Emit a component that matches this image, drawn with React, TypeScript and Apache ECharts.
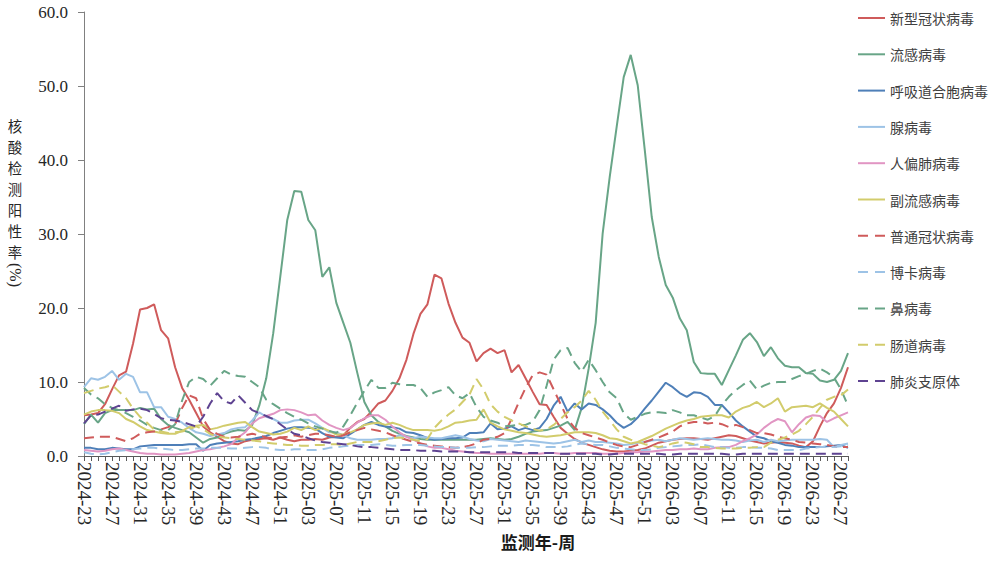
import React, { useEffect, useRef } from "react";
import * as echarts from "echarts";

const weeks: string[] = [
  "2024-23","2024-24","2024-25","2024-26","2024-27","2024-28","2024-29","2024-30","2024-31","2024-32",
  "2024-33","2024-34","2024-35","2024-36","2024-37","2024-38","2024-39","2024-40","2024-41","2024-42",
  "2024-43","2024-44","2024-45","2024-46","2024-47","2024-48","2024-49","2024-50","2024-51","2024-52",
  "2025-01","2025-02","2025-03","2025-04","2025-05","2025-06","2025-07","2025-08","2025-09","2025-10",
  "2025-11","2025-12","2025-13","2025-14","2025-15","2025-16","2025-17","2025-18","2025-19","2025-20",
  "2025-21","2025-22","2025-23","2025-24","2025-25","2025-26","2025-27","2025-28","2025-29","2025-30",
  "2025-31","2025-32","2025-33","2025-34","2025-35","2025-36","2025-37","2025-38","2025-39","2025-40",
  "2025-41","2025-42","2025-43","2025-44","2025-45","2025-46","2025-47","2025-48","2025-49","2025-50",
  "2025-51","2025-52","2026-01","2026-02","2026-03","2026-04","2026-05","2026-06","2026-07","2026-08",
  "2026-09","2026-10","2026-11","2026-12","2026-13","2026-14","2026-15","2026-16","2026-17","2026-18",
  "2026-19","2026-20","2026-21","2026-22","2026-23","2026-24","2026-25","2026-26","2026-27","2026-28",
];

const yTicks: number[] = [0, 10, 20, 30, 40, 50, 60];

const covid: number[] = [
  5.5, 5.6, 5.8, 7.0, 9.0, 10.9, 11.4, 15.2, 19.8, 20.0,
  20.5, 17.0, 15.9, 12.0, 9.2, 7.6, 5.8, 4.0, 3.2, 2.6,
  2.0, 1.7, 1.6, 2.0, 2.2, 2.3, 2.4, 2.2, 2.5, 2.2,
  2.0, 2.2, 2.2, 2.3, 2.2, 2.5, 2.6, 2.8, 3.8, 4.6,
  5.0, 6.0, 7.1, 7.5, 8.8, 10.5, 13.0, 16.5, 19.2, 20.5,
  24.5, 24.0, 20.6, 18.0, 16.0, 15.3, 12.8, 13.9, 14.5, 13.9,
  14.3, 11.3, 12.3, 10.5, 8.7, 7.0, 6.9, 5.3, 3.8, 3.0,
  2.3, 1.8, 1.5, 1.2, 0.9, 0.7, 0.6, 0.6, 0.7, 0.8,
  1.0, 1.4, 1.8, 2.0, 2.2, 2.3, 2.4, 2.4, 2.3, 2.2,
  2.4, 2.6, 2.8, 2.7, 2.4, 2.1, 1.9, 1.7, 1.8, 1.9,
  1.8, 1.7, 1.4, 1.2, 2.0, 4.0, 5.8, 7.1, 9.2, 12.0,
];

const flu: number[] = [
  4.3, 5.6, 4.5, 5.8, 6.2, 6.2, 6.2, 6.2, 6.5, 6.3,
  6.4, 5.0, 4.2, 3.8, 3.5, 3.2, 2.5, 1.8, 2.3, 2.5,
  3.0, 3.3, 3.5, 3.4, 4.2, 6.8, 10.5, 16.6, 24.2, 31.9,
  35.8, 35.7, 31.9, 30.5, 24.2, 25.5, 20.7, 18.0, 15.3, 11.2,
  7.3, 5.5, 4.6, 4.0, 3.4, 3.0, 2.7, 2.5, 2.3, 2.2,
  2.2, 2.2, 2.2, 2.2, 2.2, 2.2, 2.2, 2.3, 2.4, 2.3,
  2.2, 2.3, 2.6, 3.0, 3.3, 3.4, 3.5, 3.8, 4.1, 4.6,
  3.5, 6.5, 11.8, 18.0, 30.1, 37.7, 44.5, 51.2, 54.2, 50.1,
  41.4, 32.3, 26.9, 23.1, 21.4, 18.6, 17.0, 12.7, 11.2, 11.1,
  11.1, 9.6, 11.6, 13.6, 15.7, 16.6, 15.4, 13.5, 14.7, 13.2,
  12.2, 12.0, 12.0, 11.2, 11.1, 10.2, 10.0, 10.3, 11.5, 13.9,
];

const rsv: number[] = [
  1.1, 1.1, 0.9, 0.9, 1.1, 1.0, 0.9, 0.9, 1.3, 1.4,
  1.5, 1.5, 1.5, 1.5, 1.5, 1.6, 1.6, 0.7, 1.5, 1.7,
  1.8, 1.9, 2.0, 2.2, 2.3, 2.5, 2.7, 3.1, 3.4, 3.7,
  3.9, 3.9, 3.8, 3.7, 3.1, 2.6, 2.5, 2.4, 3.0, 3.6,
  4.2, 4.6, 4.2, 4.0, 3.9, 3.7, 3.2, 3.1, 2.8, 2.4,
  2.2, 2.3, 2.4, 2.4, 2.5, 3.1, 3.1, 3.2, 4.4, 3.6,
  3.7, 4.0, 3.5, 3.8, 3.5, 3.8, 5.0, 6.8, 8.0, 6.0,
  7.1, 6.3, 7.1, 6.9, 6.3, 5.5, 4.5, 3.8, 4.3, 5.2,
  6.4, 7.5, 8.7, 9.9, 9.3, 8.5, 8.0, 8.6, 8.5, 8.0,
  6.9, 6.9, 5.9, 4.8, 4.0, 3.3, 2.6, 2.4, 2.0, 1.8,
  1.5, 1.4, 1.2, 1.2, 1.2, 1.2, 1.3, 1.4, 1.5, 1.1,
];

const adeno: number[] = [
  9.3, 10.5, 10.3, 10.7, 11.5, 10.3, 11.1, 10.7, 8.6, 8.6,
  6.6, 6.6, 5.3, 5.0, 4.5, 3.8, 3.2, 3.0, 2.7, 2.9,
  3.1, 3.6, 3.8, 3.9, 4.8, 5.9, 5.3, 5.0, 4.5, 4.5,
  4.8, 4.9, 4.9, 4.4, 3.8, 3.2, 3.2, 2.8, 2.4, 2.2,
  2.2, 2.2, 2.3, 2.3, 2.4, 2.8, 2.6, 2.4, 2.6, 2.5,
  2.4, 2.4, 2.6, 2.8, 2.6, 2.3, 2.1, 2.0, 2.3, 2.2,
  2.1, 2.0, 1.9, 2.1, 2.0, 1.9, 1.8, 1.7, 1.8, 2.0,
  2.2, 1.9, 2.1, 1.9, 1.9, 1.8, 1.7, 1.5, 1.6, 1.8,
  1.9, 2.1, 2.2, 2.0, 2.2, 2.4, 2.3, 2.2, 2.3, 2.4,
  2.3, 2.2, 2.2, 2.1, 1.9, 2.1, 2.2, 1.9, 2.2, 2.0,
  2.1, 2.2, 2.2, 2.2, 2.2, 2.3, 2.2, 1.2, 1.5, 1.7,
];

const hmpv: number[] = [
  0.8, 0.7, 0.6, 0.7, 0.9, 1.0, 0.8, 0.6, 0.4, 0.3,
  0.3, 0.2, 0.2, 0.2, 0.3, 0.4, 0.6, 0.8, 0.9, 1.1,
  1.3, 1.6, 2.5, 3.2, 4.4, 5.1, 5.4, 5.7, 6.2, 6.3,
  6.2, 5.9, 5.5, 5.6, 4.8, 4.2, 3.8, 3.5, 3.8, 4.5,
  5.1, 5.5, 5.5, 4.9, 4.0, 3.2, 2.6, 2.2, 1.7, 1.3,
  1.1, 1.1, 0.9, 0.7, 0.6, 0.5, 0.4, 0.4, 0.3, 0.3,
  0.3, 0.3, 0.3, 0.3, 0.3, 0.3, 0.4, 0.4, 0.3, 0.3,
  0.4, 0.4, 0.4, 0.4, 0.3, 0.3, 0.3, 0.4, 0.5, 0.5,
  0.6, 0.6, 0.7, 0.8, 0.8, 0.9, 0.9, 1.0, 0.9, 0.9,
  1.1, 1.2, 1.2, 1.5, 2.0, 2.4, 2.9, 3.8, 4.5, 5.0,
  4.7, 3.2, 4.3, 5.2, 5.5, 5.4, 4.6, 5.1, 5.5, 5.9,
];

const piv: number[] = [
  5.6, 6.0, 6.2, 6.2, 6.1, 5.8, 5.0, 4.6, 4.0, 3.5,
  3.3, 3.1, 3.0, 3.0, 3.4, 3.9, 4.1, 4.2, 3.6, 3.8,
  4.1, 4.3, 4.5, 4.6, 3.9, 3.3, 3.1, 2.9, 3.0, 3.3,
  3.8, 3.5, 4.0, 3.5, 3.8, 3.4, 2.9, 2.9, 3.2, 3.6,
  4.2, 4.4, 4.5, 4.2, 4.5, 4.2, 3.8, 3.5, 3.5, 3.5,
  3.4, 3.6, 4.0, 4.5, 4.6, 4.8, 4.9, 6.3, 4.5, 4.0,
  3.6, 3.4, 3.2, 3.1, 2.9, 2.7, 2.6, 2.7, 2.8, 3.0,
  3.2, 3.2, 3.2, 3.1, 2.8, 2.4, 2.3, 2.0, 1.7, 1.9,
  2.3, 2.7, 3.2, 3.7, 4.1, 4.5, 4.8, 5.0, 5.3, 5.4,
  5.5, 5.5, 5.2, 6.0, 6.5, 6.8, 7.3, 6.6, 7.1, 7.8,
  6.0, 6.6, 6.7, 6.8, 6.6, 7.1, 6.5, 6.0, 5.0, 4.0,
];

const hcov: number[] = [
  2.4, 2.5, 2.6, 2.6, 2.6, 2.3, 2.0, 2.4, 3.0, 3.2,
  3.3, 3.6, 3.9, 4.3, 6.5, 8.2, 7.8, 5.0, 3.5, 3.0,
  2.6, 2.5, 2.6, 2.8, 3.0, 2.8, 2.5, 2.4, 2.5, 2.6,
  2.8, 2.6, 2.8, 3.0, 3.0, 2.8, 2.6, 2.8, 3.2, 3.5,
  3.8, 3.6, 3.4, 3.2, 2.8, 2.5, 2.2, 1.9, 1.7, 1.5,
  1.4, 1.3, 1.2, 1.1, 1.2, 1.4, 1.7, 2.2, 2.3, 2.6,
  3.1, 5.0, 7.2, 9.2, 10.9, 11.3, 11.0, 9.0, 7.0, 5.0,
  3.8, 3.1, 2.8, 2.5, 2.2, 1.8, 1.5, 1.3, 1.2, 1.5,
  1.9, 2.2, 2.5, 2.9, 3.3, 4.0, 4.4, 4.6, 4.6, 4.4,
  4.5, 4.3, 3.9, 4.2, 3.9, 3.5, 3.1, 3.1, 2.9, 2.6,
  2.4, 2.2, 1.9, 1.8, 1.7, 1.6, 1.5, 1.3, 1.2, 1.2,
];

const boca: number[] = [
  0.5, 0.3, 0.2, 0.3, 0.5, 0.7, 0.8, 0.9, 1.0, 1.1,
  1.1, 1.0, 0.9, 0.8, 0.8, 0.9, 1.0, 1.0, 1.1, 1.1,
  1.1, 1.0, 1.0, 1.1, 1.2, 1.2, 1.1, 0.9, 0.8, 0.8,
  0.9, 0.9, 0.8, 0.8, 0.9, 1.1, 1.2, 1.3, 1.4, 1.5,
  1.5, 1.5, 1.6, 1.5, 1.4, 1.4, 1.5, 1.5, 1.5, 1.4,
  1.3, 1.2, 1.2, 1.1, 1.1, 1.1, 1.2, 1.2, 1.3, 1.4,
  1.4, 1.4, 1.5, 1.5, 1.5, 1.4, 1.2, 1.2, 1.2, 1.3,
  1.5, 1.7, 1.6, 1.5, 1.5, 1.3, 1.1, 1.0, 0.9, 0.8,
  0.8, 0.9, 1.1, 1.2, 1.3, 1.4, 1.5, 1.5, 1.6, 1.4,
  1.2, 1.2, 1.1, 1.1, 1.2, 1.2, 1.1, 1.1, 1.0, 0.8,
  0.8, 0.8, 0.8, 1.0, 1.1, 1.2, 1.2, 1.2, 1.3, 1.5,
];

const rhino: number[] = [
  9.2, 8.3, 7.8, 7.0, 6.5, 6.2, 5.8, 5.3, 4.8, 4.2,
  3.8, 3.5, 3.5, 4.3, 7.5, 10.0, 10.7, 10.4, 9.5, 10.5,
  11.5, 11.0, 10.8, 10.7, 10.0, 9.3, 7.6, 7.0, 6.4, 5.8,
  5.3, 4.9, 4.4, 4.0, 3.7, 3.4, 3.1, 4.0, 5.5, 7.2,
  8.8, 10.3, 9.2, 9.2, 9.9, 9.7, 9.6, 9.6, 9.2, 8.0,
  8.6, 8.9, 9.3, 8.2, 7.8, 8.5, 6.6, 5.3, 4.8, 4.5,
  4.0, 4.1, 4.2, 4.2, 4.6, 6.2, 9.5, 13.0, 14.3, 14.6,
  12.6, 11.4, 13.0, 11.6, 10.0, 8.6, 7.8, 5.8, 4.9, 5.3,
  5.7, 5.9, 5.9, 5.8, 6.2, 5.9, 5.5, 5.5, 5.2, 4.9,
  5.4, 6.9, 8.0, 8.9, 9.6, 10.2, 9.0, 9.5, 9.9, 10.0,
  10.0, 10.4, 10.8, 11.1, 11.5, 11.8, 11.3, 10.6, 9.0, 6.8,
];

const entero: number[] = [
  8.5, 8.8, 9.1, 9.3, 9.6, 8.7, 7.8, 6.4, 5.3, 4.5,
  3.6, 3.3, 3.1, 3.2, 3.3, 3.6, 4.0, 3.6, 3.0, 2.6,
  2.5, 2.4, 2.3, 2.2, 2.1, 2.0, 1.8, 1.7, 1.6, 1.5,
  1.5, 1.4, 1.4, 1.5, 1.5, 1.6, 1.6, 1.5, 1.7, 1.9,
  1.9, 1.9, 2.0, 2.2, 2.4, 2.5, 2.4, 2.2, 2.0, 2.3,
  3.8, 4.8, 5.6, 6.3, 7.3, 8.3, 10.4, 9.0, 7.0, 6.0,
  5.3, 4.8, 4.4, 4.0, 3.7, 3.4, 3.6, 4.2, 5.0, 5.9,
  6.6, 7.5, 8.8, 7.6, 6.0, 4.8, 3.6, 2.6, 2.2, 1.9,
  1.6, 1.4, 1.2, 1.4, 1.7, 1.9, 1.8, 1.6, 1.2, 1.2,
  1.1, 1.0, 1.0, 1.0, 1.1, 1.1, 1.2, 1.2, 1.8, 2.2,
  2.5, 2.9, 3.4, 4.3, 5.3, 6.5, 7.6, 8.0, 8.2, 9.0,
];

const mp: number[] = [
  4.4, 5.5, 5.6, 6.0, 6.4, 6.8, 6.1, 6.3, 6.4, 6.2,
  5.7, 5.1, 4.9, 4.8, 4.6, 4.3, 4.0, 5.3, 7.1, 8.5,
  7.4, 7.1, 8.2, 7.2, 6.2, 5.8, 5.4, 5.0, 4.3, 3.6,
  3.0, 2.8, 2.4, 2.1, 1.9, 1.8, 1.7, 1.6, 1.5, 1.3,
  1.2, 1.2, 1.1, 1.0, 0.9, 0.8, 0.8, 0.8, 0.7, 0.7,
  0.7, 0.6, 0.6, 0.6, 0.6, 0.5, 0.5, 0.5, 0.5, 0.5,
  0.5, 0.5, 0.4, 0.4, 0.4, 0.4, 0.4, 0.4, 0.3, 0.3,
  0.3, 0.3, 0.3, 0.3, 0.2, 0.2, 0.3, 0.3, 0.3, 0.3,
  0.3, 0.3, 0.3, 0.2, 0.2, 0.3, 0.3, 0.3, 0.3, 0.3,
  0.3, 0.3, 0.2, 0.2, 0.3, 0.3, 0.3, 0.3, 0.3, 0.3,
  0.3, 0.3, 0.3, 0.3, 0.3, 0.3, 0.3, 0.3, 0.3, 0.3,
];

const seriesNames: string[] = [
  "新型冠状病毒", "流感病毒", "呼吸道合胞病毒", "腺病毒", "人偏肺病毒", "副流感病毒",
  "普通冠状病毒", "博卡病毒", "鼻病毒", "肠道病毒", "肺炎支原体",
];
const seriesData: number[][] = [covid, flu, rsv, adeno, hmpv, piv, hcov, boca, rhino, entero, mp];
const seriesColors: string[] = [
  "#CF5B5B", "#68A587", "#4E7FB8", "#9DC3E6", "#E195C3", "#D2CC6C",
  "#CF5B5B", "#9DC3E6", "#68A587", "#D2CC6C", "#5E4391",
];
const seriesDashed: boolean[] = [false, false, false, false, false, false, true, true, true, true, true];

const yAxisNameChars: string[] = ["核", "酸", "检", "测", "阳", "性", "率"];
const yAxisUnit = "(%)";

const SERIF = "'Liberation Serif', 'Times New Roman', 'Noto Sans CJK SC', serif";
const CJK = "'Noto Sans CJK SC', 'Liberation Serif', sans-serif";

export default function App() {
  const ref = useRef<HTMLDivElement | null>(null);

  useEffect(() => {
    if (!ref.current) return;
    const chart = echarts.init(ref.current, undefined, { renderer: "svg" });

    const legendGraphics: any[] = [];
    seriesNames.forEach((name, i) => {
      const cy = 18 + i * 36.3;
      legendGraphics.push({
        type: "line",
        shape: { x1: 858, y1: cy, x2: 885, y2: cy },
        style: {
          stroke: seriesColors[i],
          lineWidth: 2,
          lineDash: seriesDashed[i] ? [10, 7] : null,
        },
        silent: true,
      });
      legendGraphics.push({
        type: "text",
        x: 890,
        y: cy,
        style: {
          text: name,
          fontSize: 14,
          fontFamily: CJK,
          fill: "#404040",
          align: "left",
          textAlign: "left",
          verticalAlign: "middle",
          textVerticalAlign: "middle",
        },
        silent: true,
      });
    });

    const yNameGraphics: any[] = yAxisNameChars.map((ch, k) => ({
      type: "text",
      x: 15,
      y: 125 + k * 21,
      style: {
        text: ch,
        fontSize: 14.4,
        fontFamily: CJK,
        fill: "#262626",
        align: "center",
        textAlign: "center",
        verticalAlign: "middle",
        textVerticalAlign: "middle",
      },
      silent: true,
    }));

    const option: any = {
      animation: false,
      backgroundColor: "#ffffff",
      grid: { left: 83, right: 150, top: 12, bottom: 106, containLabel: false },
      xAxis: {
        type: "category",
        data: weeks,
        boundaryGap: false,
        axisLine: { show: true, lineStyle: { color: "#595959", width: 1 } },
        axisTick: { show: true, interval: 0, length: 5, lineStyle: { color: "#595959" } },
        axisLabel: {
          interval: 3,
          rotate: -90,
          margin: 6,
          fontSize: 19,
          color: "#262626",
          fontFamily: SERIF,
        },
        splitLine: { show: false },
      },
      yAxis: {
        type: "value",
        min: yTicks[0],
        max: yTicks[yTicks.length - 1],
        interval: 10,
        name: yAxisUnit,
        nameLocation: "middle",
        nameRotate: -90,
        nameGap: 60,
        nameTextStyle: {
          fontSize: 16,
          fontFamily: SERIF,
          color: "#262626",
          padding: [0, 0, 0, 82],
        },
        axisLine: { show: true, lineStyle: { color: "#808080", width: 1 } },
        axisTick: { show: true, length: 6, lineStyle: { color: "#808080" } },
        axisLabel: {
          formatter: (v: number) => v.toFixed(1),
          fontSize: 17,
          margin: 16,
          color: "#262626",
          fontFamily: SERIF,
        },
        splitLine: { show: false },
      },
      series: seriesNames.map((name, i) => ({
        name,
        type: "line",
        data: seriesData[i],
        symbol: "none",
        showSymbol: false,
        smooth: false,
        color: seriesColors[i],
        lineStyle: {
          color: seriesColors[i],
          width: 2,
          type: seriesDashed[i] ? [10, 6] : "solid",
        },
      })),
      graphic: [
        ...yNameGraphics,
        {
          type: "text",
          x: 538,
          y: 541,
          style: {
            text: "监测年-周",
            fontSize: 17,
            fontWeight: "bold",
            fontFamily: CJK,
            fill: "#1a1a1a",
            align: "center",
            textAlign: "center",
            verticalAlign: "middle",
            textVerticalAlign: "middle",
          },
          silent: true,
        },
        ...legendGraphics,
      ],
    };
    chart.setOption(option);
    return () => {
      chart.dispose();
    };
  }, []);

  return (
    <div
      ref={ref}
      style={{ position: "fixed", left: 0, top: 0, width: 998, height: 562, background: "#fff" }}
    />
  );
}
